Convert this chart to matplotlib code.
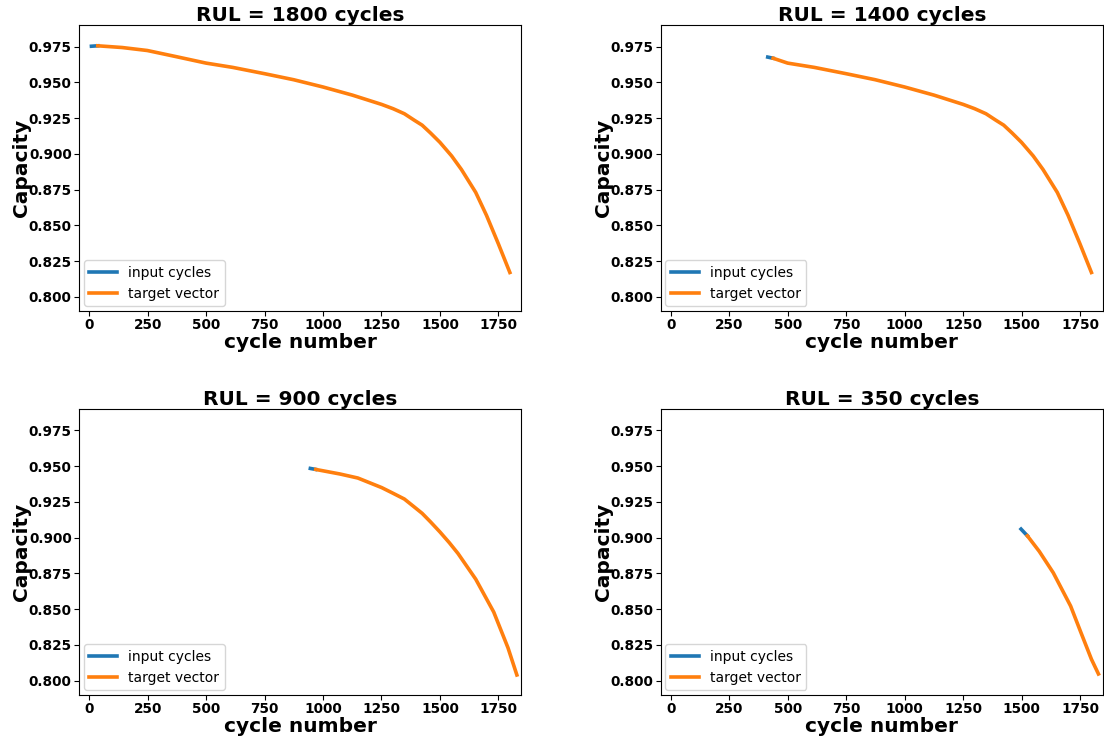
import numpy as np
import matplotlib.pyplot as plt

# RUL = 1800 / 1400 share one capacity curve ending near 1800 cycles
curve_a_x = [37, 141, 249, 370, 500, 614, 750, 874, 1000, 1126, 1251, 1300, 1348, 1390, 1424, 1460, 1500, 1550, 1592, 1653, 1699, 1750, 1799]
curve_a_y = [0.9755, 0.9743, 0.9722, 0.968, 0.9634, 0.9604, 0.956, 0.9518, 0.9467, 0.941, 0.9345, 0.9315, 0.928, 0.9235, 0.920, 0.9145, 0.908, 0.8985, 0.889, 0.873, 0.857, 0.837, 0.817]

# panel 1: RUL = 1800
in1_x = [10, 37]
in1_y = [0.9752, 0.9755]
tg1_x = curve_a_x
tg1_y = curve_a_y

# panel 2: RUL = 1400
in2_x = [415, 438]
in2_y = [0.9676, 0.9668]
tg2_x = [438] + curve_a_x[4:]
tg2_y = [0.9668] + curve_a_y[4:]

# panel 3: RUL = 900
in3_x = [946, 969]
in3_y = [0.9484, 0.9477]
tg3_x = [969, 1073, 1149, 1251, 1300, 1348, 1390, 1424, 1460, 1500, 1540, 1577, 1653, 1730, 1791, 1829]
tg3_y = [0.9477, 0.9445, 0.9417, 0.935, 0.931, 0.927, 0.9215, 0.917, 0.911, 0.904, 0.8965, 0.889, 0.871, 0.848, 0.823, 0.804]

# panel 4: RUL = 350
in4_x = [1498, 1525]
in4_y = [0.906, 0.9013]
tg4_x = [1525, 1576, 1636, 1710, 1754, 1799, 1829]
tg4_y = [0.9013, 0.8904, 0.8754, 0.8522, 0.8337, 0.815, 0.8047]

titles = ["RUL = 1800 cycles", "RUL = 1400 cycles", "RUL = 900 cycles", "RUL = 350 cycles"]
inputs = [(in1_x, in1_y), (in2_x, in2_y), (in3_x, in3_y), (in4_x, in4_y)]
targets = [(tg1_x, tg1_y), (tg2_x, tg2_y), (tg3_x, tg3_y), (tg4_x, tg4_y)]

fig, axes = plt.subplots(2, 2, figsize=(11.04, 7.37), dpi=100)
plt.subplots_adjust(left=0.0716, right=0.999, bottom=0.057, top=0.966, wspace=0.315, hspace=0.342)

for ax, title, (ix, iy), (tx, ty) in zip(axes.flat, titles, inputs, targets):
    ax.plot(ix, iy, color='#1f77b4', lw=2.6, label='input cycles')
    ax.plot(tx, ty, color='#ff7f0e', lw=2.6, label='target vector')
    ax.set_xlim(-43, 1848)
    ax.set_ylim(0.790, 0.990)
    ax.set_xticks(np.arange(0, 1751, 250))
    ax.set_yticks(np.arange(0.800, 0.976, 0.025))
    ax.tick_params(labelsize=9.8, pad=1.8)
    ax.set_title(title, fontsize=14.5, fontweight='bold', pad=3)
    ax.set_xlabel('cycle number', fontsize=14.5, fontweight='bold', labelpad=0.5)
    ax.set_ylabel('Capacity', fontsize=14.5, fontweight='bold')
    ax.yaxis.set_label_coords(-0.108, 0.5)
    for lab in ax.get_xticklabels() + ax.get_yticklabels():
        lab.set_fontweight('bold')
    ax.legend(loc='lower left', fontsize=10, borderaxespad=0.35)

fig.savefig('out.png', dpi=100)
